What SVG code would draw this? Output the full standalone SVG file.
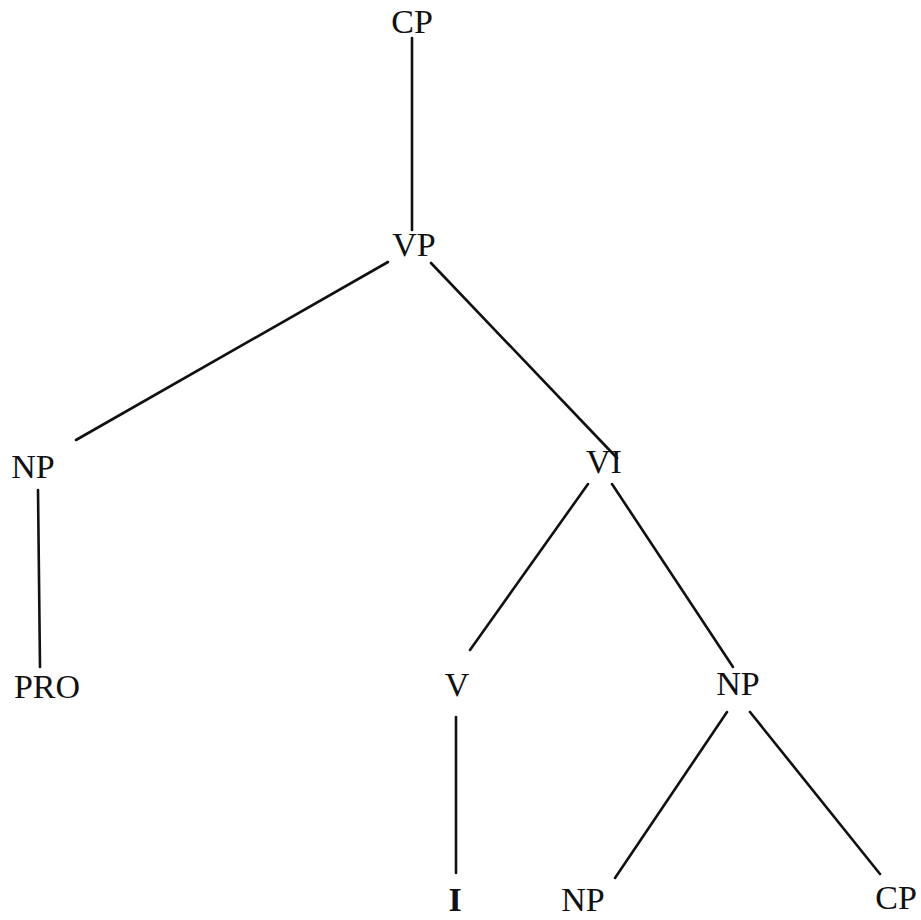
<svg xmlns="http://www.w3.org/2000/svg" width="921" height="920" viewBox="0 0 921 920">
<style>
.lbl{font-family:"Liberation Serif","Times New Roman",serif;font-size:34px;fill:#111;text-anchor:middle}
.b{font-weight:bold}
#edges line{stroke:#111;stroke-width:2.6;stroke-linecap:round}
</style>
<rect width="921" height="920" fill="#fff"/>
<g id="edges">
<line x1="412" y1="38" x2="412" y2="230"/>
<line x1="388" y1="262" x2="76" y2="440"/>
<line x1="431" y1="263" x2="617" y2="458"/>
<line x1="588" y1="484" x2="470" y2="650"/>
<line x1="612" y1="484" x2="733" y2="667"/>
<line x1="38" y1="490" x2="40" y2="667"/>
<line x1="456" y1="717" x2="456" y2="873"/>
<line x1="727" y1="712" x2="615" y2="878"/>
<line x1="750" y1="712" x2="880" y2="874"/>
</g>
<g id="n-cp"><text class="lbl" x="412" y="33">CP</text></g>
<g id="n-vp"><text class="lbl" x="414" y="256">VP</text></g>
<g id="n-np1"><text class="lbl" x="33" y="478">NP</text></g>
<g id="n-vbar"><text class="lbl" x="604" y="473">VI</text></g>
<g id="n-pro"><text class="lbl" x="47" y="698">PRO</text></g>
<g id="n-v"><text class="lbl" x="457" y="696">V</text></g>
<g id="n-np2"><text class="lbl" x="738" y="695">NP</text></g>
<g id="n-i"><text class="lbl b" x="455" y="911">I</text></g>
<g id="n-np3"><text class="lbl" x="583" y="911">NP</text></g>
<g id="n-cp2"><text class="lbl" x="896" y="909">CP</text></g>
</svg>
